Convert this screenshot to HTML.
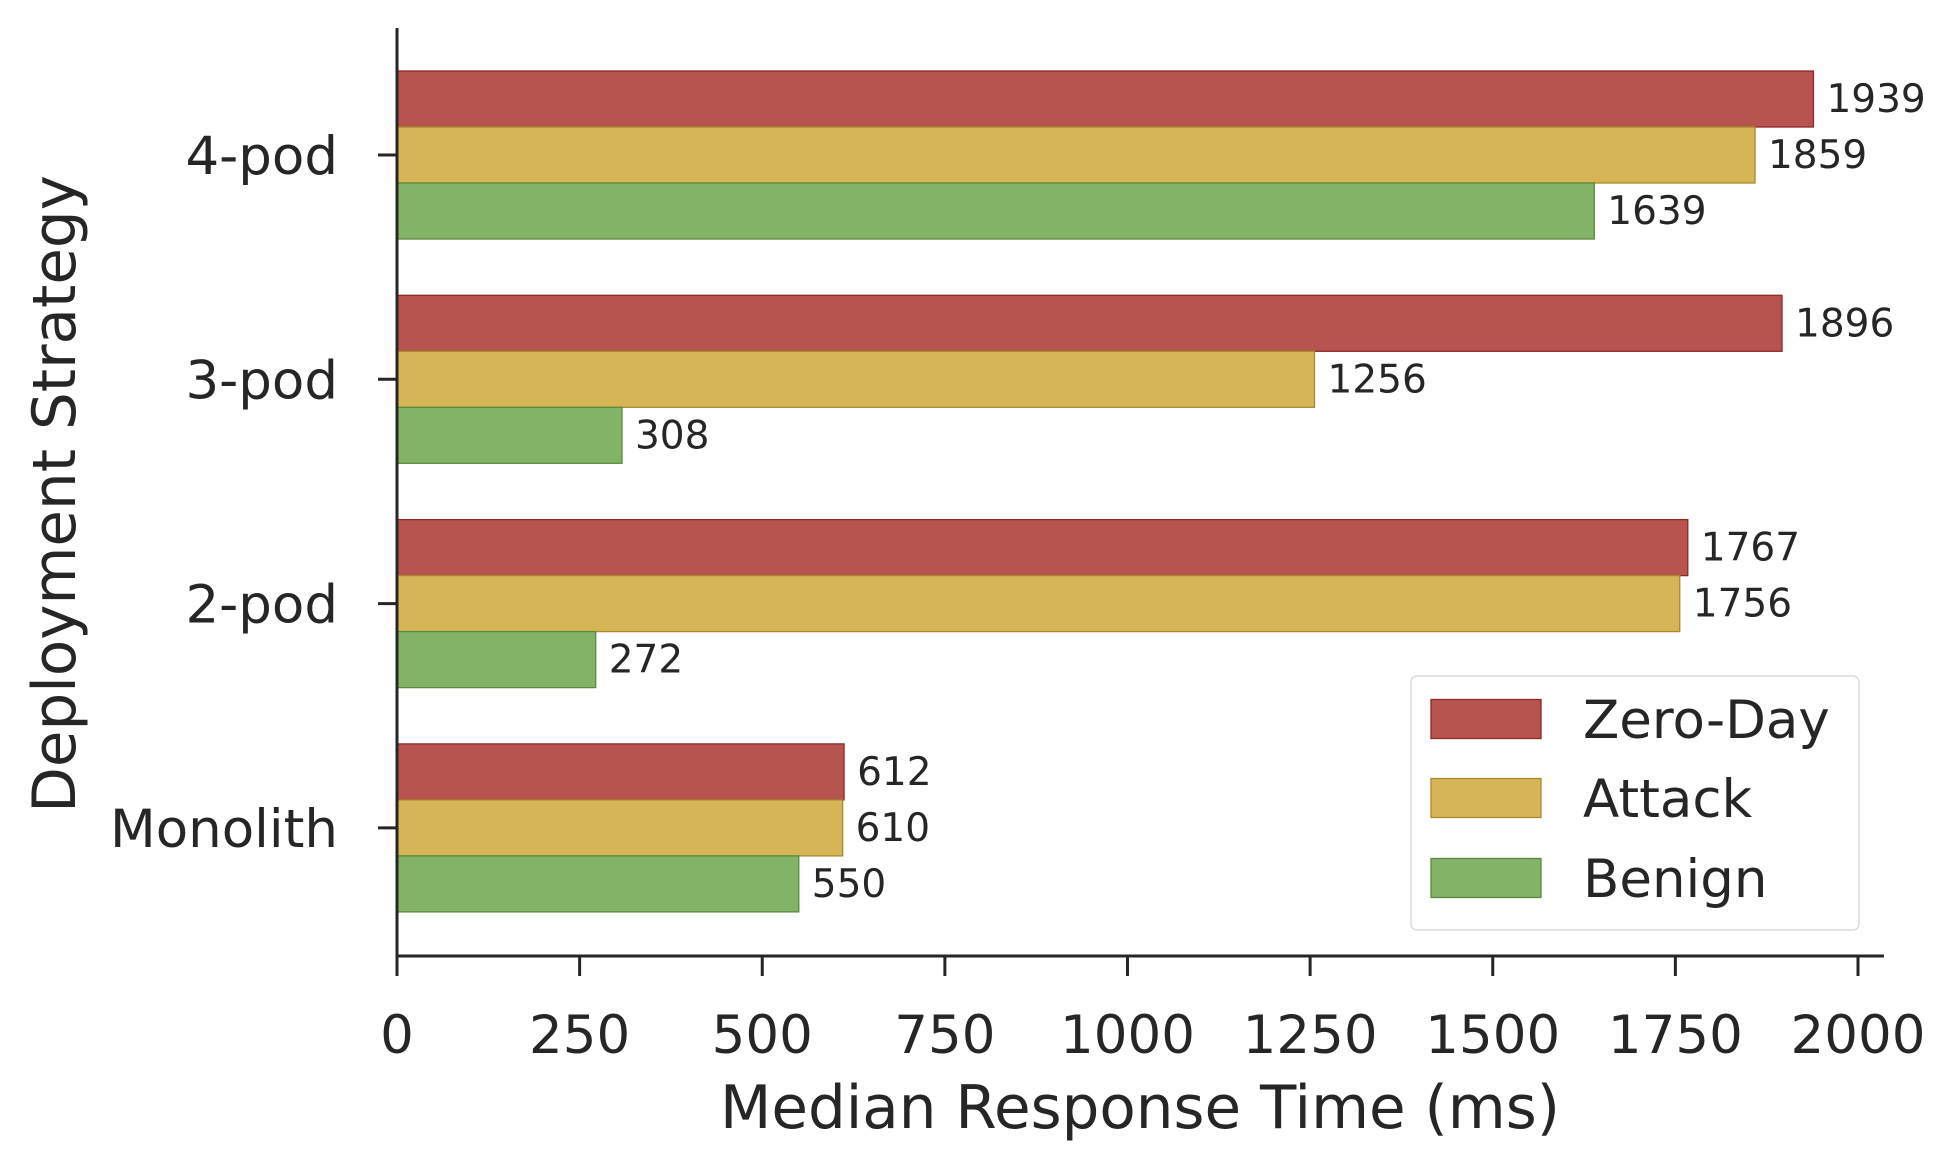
<!DOCTYPE html>
<html><head><meta charset="utf-8"><style>
html,body{margin:0;padding:0;background:#fff;}
svg{display:block;font-family:"DejaVu Sans","Liberation Sans",sans-serif;}
</style></head><body>
<svg id="chart" width="1958" height="1169" viewBox="0 0 1958 1169" xmlns="http://www.w3.org/2000/svg">
<g id="bars"></g>
<g id="axes"></g>
<g id="legend"></g>
</svg>
<script>
const categories = ["Monolith","2-pod","3-pod","4-pod"];
const zeroDay = [612,1767,1896,1939];
const attack = [610,1756,1256,1859];
const benign = [550,272,308,1639];
const xTicks = [0,250,500,750,1000,1250,1500,1750,2000];
const seriesNames = ["Zero-Day","Attack","Benign"];

const NS="http://www.w3.org/2000/svg";
const X0=397, X1=1858, XMAX=2000;
function xs(v){return X0+(v/XMAX)*(X1-X0);}
const GROUP_TOP=155, STEP=224.3;
function ys(i){return GROUP_TOP+(categories.length-1-i)*STEP;}
const BH=56;
const fills=["#b75450","#d6b556","#83b366"];
const strokes=["#8c2a2a","#a88a2c","#5a8a3c"];
const series=[zeroDay,attack,benign];
function mk(tag,attrs,parent){const e=document.createElementNS(NS,tag);for(const k in attrs)e.setAttribute(k,attrs[k]);parent.appendChild(e);return e;}
const gb=document.getElementById('bars'),ga=document.getElementById('axes'),gl=document.getElementById('legend');
categories.forEach((c,i)=>{
  series.forEach((s,j)=>{
    const y=ys(i)-1.5*BH+j*BH;
    const r=mk('rect',{x:xs(0),y:y,width:xs(s[i])-xs(0),height:BH,fill:fills[j],stroke:strokes[j],'stroke-width':1.3},gb);
    
    
    const t=mk('text',{x:xs(s[i])+13,y:y+BH/2+13,'font-size':39,fill:'#262626'},gb);
    t.textContent=s[i];
    
    
  });
  const tk=mk('line',{x1:378,x2:397,y1:ys(i),y2:ys(i),stroke:'#262626','stroke-width':3},ga);
  
  
  const tl=mk('text',{x:338,y:ys(i)+19,'font-size':53,fill:'#262626','text-anchor':'end'},ga);
  tl.textContent=c;
  
  
});
const ya=mk('line',{x1:397,x2:397,y1:28,y2:957,stroke:'#262626','stroke-width':3},ga);


const xa=mk('line',{x1:395.5,x2:1884,y1:956,y2:956,stroke:'#262626','stroke-width':3},ga);


xTicks.forEach(v=>{
  const l=mk('line',{x1:xs(v),x2:xs(v),y1:956,y2:976,stroke:'#262626','stroke-width':3},ga);
  
  
  const t=mk('text',{x:xs(v),y:1053,'font-size':53,fill:'#262626','text-anchor':'middle'},ga);
  t.textContent=v;
  
  
});
const xt=mk('text',{x:1140,y:1128,'font-size':59.5,fill:'#262626','text-anchor':'middle'},ga);
xt.textContent="Median Response Time (ms)";


const yt=mk('text',{x:0,y:0,'font-size':59.5,fill:'#262626','text-anchor':'middle',transform:'translate(75,494) rotate(-90)'},ga);
yt.textContent="Deployment Strategy";


const lb=mk('rect',{x:1411,y:676,width:448,height:254,rx:6,fill:'#fff',stroke:'#dcdcdc','stroke-width':1.5},gl);


const ly=[719,798,878];
seriesNames.forEach((n,j)=>{
  const r=mk('rect',{x:1431,y:ly[j]-19.5,width:110,height:39,fill:fills[j],stroke:strokes[j],'stroke-width':1.3},gl);
  
  
  const t=mk('text',{x:1583,y:ly[j]+19,'font-size':53,fill:'#262626'},gl);
  t.textContent=n;
  
  
});
</script>
</body></html>
